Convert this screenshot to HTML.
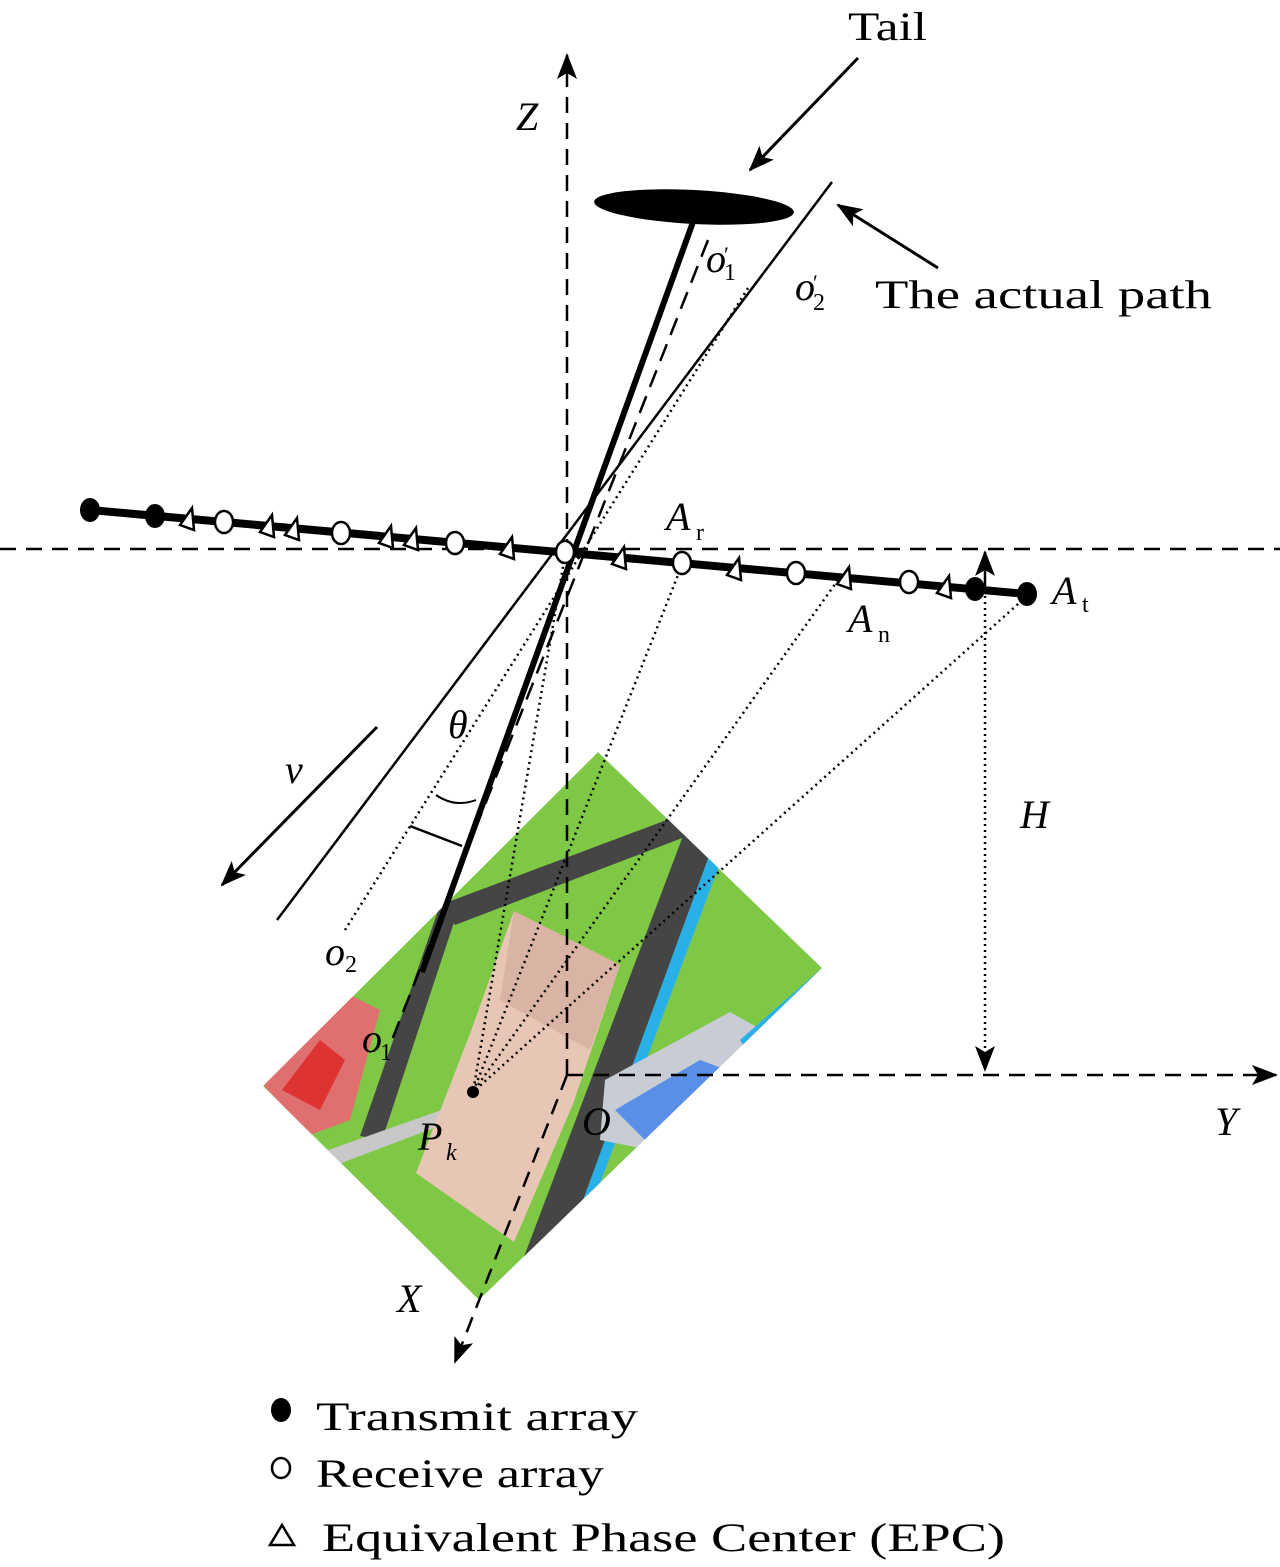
<!DOCTYPE html>
<html><head><meta charset="utf-8"><style>body{margin:0;background:#fff}svg{display:block}</style></head><body>
<svg width="1280" height="1567" viewBox="0 0 1280 1567" xmlns="http://www.w3.org/2000/svg" font-family="Liberation Serif, serif">
<defs>
<marker id="ah2" markerWidth="26" markerHeight="20" refX="24" refY="10" orient="auto" markerUnits="userSpaceOnUse"><path d="M0,0 L26,10 L0,20 L6,10 Z" fill="#000"/></marker>
<clipPath id="cp"><polygon points="598,752 822,968 479,1300 263,1086"/></clipPath>
</defs>
<!-- city map -->
<g clip-path="url(#cp)">
<polygon points="598,752 822,968 479,1300 263,1086" fill="#7ec845"/>
<polygon points="686,828 712,848 548,1296 516,1278" fill="#454545"/>
<polygon points="712,848 722,858 560,1290 548,1296" fill="#2ab0e8"/>
<polygon points="440,905 462,898 382,1140 360,1136" fill="#454545"/>
<polygon points="440,905 680,815 690,835 455,925" fill="#454545"/>
<polygon points="300,1160 470,1100 476,1112 310,1175" fill="#c8c8c8"/>
<polygon points="514,911 620,965 573,1104 514,1242 416,1173 471,1031" fill="#e8c6b6"/>
<polygon points="514,911 620,965 590,1050 500,1000" fill="#d9b3a3"/>
<polygon points="264,1086 330,985 380,1010 350,1120 310,1135" fill="#e07070"/>
<polygon points="282,1090 320,1040 345,1060 320,1110" fill="#d33"/>
<polygon points="605,1080 730,1012 780,1040 650,1150 600,1140" fill="#c8ccd4"/>
<polygon points="615,1110 700,1060 740,1075 655,1150" fill="#5a8fe8"/>
<polygon points="740,1040 822,968 830,1060 770,1090" fill="#2ab0e8"/>
</g>
<!-- axes -->
<line x1="567" y1="1075" x2="567" y2="55" stroke="#000" stroke-width="2.5" stroke-dasharray="16,10" marker-end="url(#ah2)"/>
<line x1="567" y1="1075" x2="1276" y2="1075" stroke="#000" stroke-width="2.5" stroke-dasharray="16,10" marker-end="url(#ah2)"/>
<line x1="567" y1="1075" x2="455" y2="1362" stroke="#000" stroke-width="2.5" stroke-dasharray="16,10" marker-end="url(#ah2)"/>
<line x1="0" y1="549" x2="1280" y2="549" stroke="#000" stroke-width="2.5" stroke-dasharray="16,10"/>
<!-- paths -->
<ellipse cx="694" cy="207" rx="100" ry="17" transform="rotate(3 694 207)" fill="#000"/>
<line x1="693" y1="222" x2="422" y2="972" stroke="#000" stroke-width="6"/>
<line x1="708" y1="240" x2="392" y2="1040" stroke="#000" stroke-width="2.5" stroke-dasharray="18,10"/>
<line x1="748" y1="288" x2="345" y2="930" stroke="#000" stroke-width="2.5" stroke-dasharray="2,4"/>
<line x1="832" y1="182" x2="277" y2="920" stroke="#000" stroke-width="2.5"/>
<line x1="377" y1="727" x2="222" y2="885" stroke="#000" stroke-width="3" marker-end="url(#ah2)"/>
<line x1="410" y1="826" x2="462" y2="846" stroke="#000" stroke-width="2.5"/>
<path d="M436,795 Q455,808 476,800" fill="none" stroke="#000" stroke-width="2"/>
<!-- dotted to Pk -->
<g stroke="#000" stroke-width="2.5" stroke-dasharray="2,4" fill="none">
<line x1="565" y1="555" x2="473" y2="1092"/>
<line x1="682" y1="565" x2="473" y2="1092"/>
<line x1="838" y1="580" x2="473" y2="1092"/>
<line x1="1027" y1="596" x2="473" y2="1092"/>
</g>
<circle cx="473" cy="1092" r="6" fill="#000"/>
<!-- H -->
<line x1="985" y1="590" x2="985" y2="1070" stroke="#000" stroke-width="2.5" stroke-dasharray="2,4" marker-end="url(#ah2)"/>
<line x1="985" y1="590" x2="985" y2="552" stroke="#000" stroke-width="2.5" marker-end="url(#ah2)"/>
<!-- tail/path arrows -->
<line x1="858" y1="58" x2="750" y2="170" stroke="#000" stroke-width="3" marker-end="url(#ah2)"/>
<line x1="938" y1="268" x2="838" y2="205" stroke="#000" stroke-width="3" marker-end="url(#ah2)"/>
<!-- array -->
<line x1="90" y1="510" x2="1027" y2="594" stroke="#000" stroke-width="8"/>
<g fill="#000"><ellipse cx="90" cy="510" rx="10" ry="12"/><ellipse cx="155" cy="516" rx="10" ry="12"/><ellipse cx="975" cy="589" rx="10" ry="12"/><ellipse cx="1027" cy="594" rx="10" ry="12"/></g>
<g fill="#fff" stroke="#000" stroke-width="2.5">
<ellipse cx="224" cy="522" rx="9" ry="11"/><ellipse cx="341" cy="533" rx="9" ry="11"/><ellipse cx="455" cy="543" rx="9" ry="11"/><ellipse cx="565" cy="552" rx="9" ry="11"/><ellipse cx="682" cy="563" rx="9" ry="11"/><ellipse cx="796" cy="573" rx="9" ry="11"/><ellipse cx="909" cy="582" rx="9" ry="11"/>
</g>
<g fill="#fff" stroke="#000" stroke-width="2.5">
<polygon points="180,525 192,508 194,530"/><polygon points="260,532 272,515 274,537"/><polygon points="285,535 297,518 299,540"/><polygon points="379,543 391,526 393,548"/><polygon points="404,545 416,528 418,550"/><polygon points="500,554 512,537 514,559"/><polygon points="612,564 624,547 626,569"/><polygon points="727,575 739,558 741,580"/><polygon points="837,584 849,567 851,589"/><polygon points="937,593 949,576 951,598"/>
</g>
<!-- labels -->
<g font-size="40" fill="#000">
<text x="848" y="40" textLength="79" lengthAdjust="spacingAndGlyphs">Tail</text>
<text x="875" y="308" textLength="337" lengthAdjust="spacingAndGlyphs">The actual path</text>
<text x="516" y="130" font-style="italic">Z</text>
<text x="706" y="272" font-style="italic">o</text><text x="724" y="262" font-size="22">′</text><text x="724" y="280" font-size="24">1</text>
<text x="795" y="300" font-style="italic">o</text><text x="813" y="290" font-size="22">′</text><text x="813" y="310" font-size="24">2</text>
<text x="666" y="530" font-style="italic">A</text><text x="696" y="540" font-size="24">r</text>
<text x="1052" y="604" font-style="italic">A</text><text x="1082" y="612" font-size="24">t</text>
<text x="848" y="632" font-style="italic">A</text><text x="878" y="642" font-size="24">n</text>
<text x="448" y="738" font-style="italic">θ</text>
<text x="285" y="783" font-style="italic">v</text>
<text x="1020" y="828" font-style="italic">H</text>
<text x="325" y="965" font-style="italic">o</text><text x="345" y="972" font-size="24">2</text>
<text x="362" y="1052" font-style="italic">o</text><text x="380" y="1060" font-size="24">1</text>
<text x="418" y="1150" font-style="italic">P</text><text x="446" y="1160" font-size="24" font-style="italic">k</text>
<text x="582" y="1135" font-style="italic">O</text>
<text x="1215" y="1135" font-style="italic">Y</text>
<text x="397" y="1312" font-style="italic">X</text>
<text x="316" y="1430" textLength="322" lengthAdjust="spacingAndGlyphs">Transmit array</text>
<text x="316" y="1487" textLength="288" lengthAdjust="spacingAndGlyphs">Receive array</text>
<text x="322" y="1551" textLength="683" lengthAdjust="spacingAndGlyphs">Equivalent Phase Center (EPC)</text>
</g>
<ellipse cx="281" cy="1410" rx="10" ry="12" fill="#000"/>
<ellipse cx="281" cy="1468" rx="9" ry="10" fill="#fff" stroke="#000" stroke-width="2.5"/>
<polygon points="270,1545 282,1525 294,1545" fill="#fff" stroke="#000" stroke-width="2.5"/>
</svg>
</body></html>
